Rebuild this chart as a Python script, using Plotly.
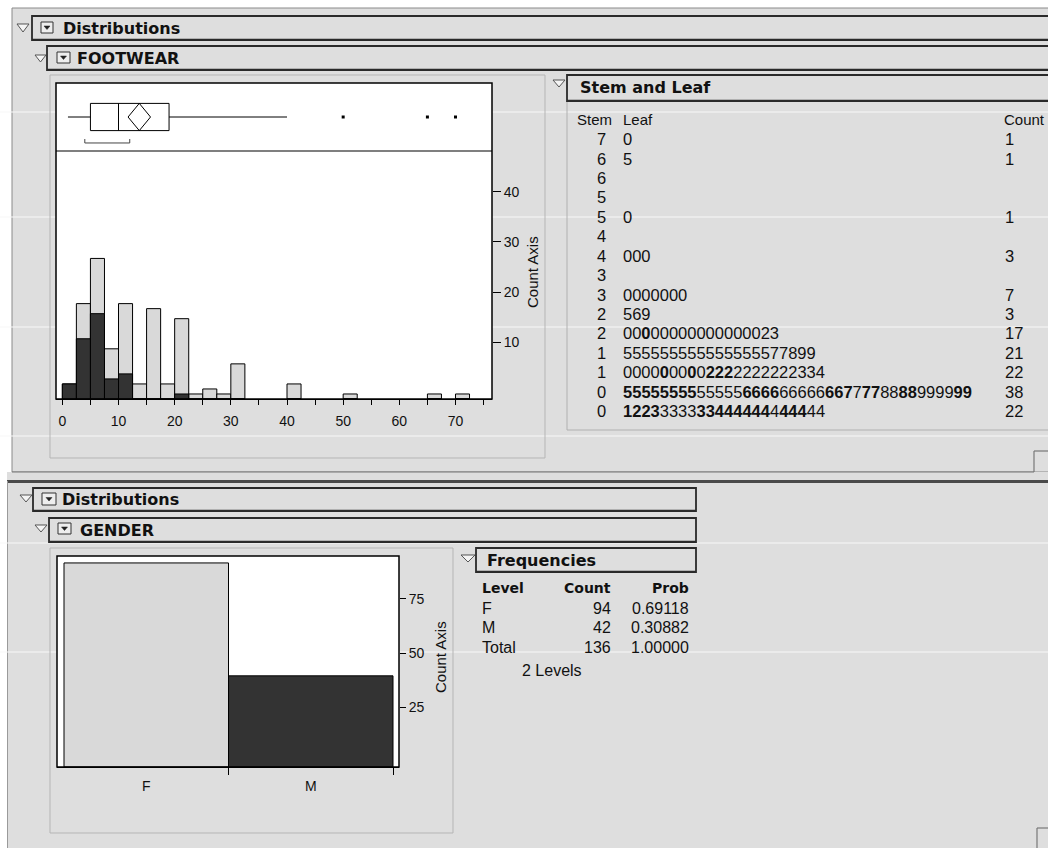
import plotly.graph_objects as go

W, H = 1048, 848

# ---------------- data ----------------
bin_width = 2.5
bin_left = [0, 2.5, 5, 7.5, 10, 12.5, 15, 17.5, 20, 22.5, 25, 27.5, 30, 40, 50, 65, 70]
total_counts = [3, 19, 28, 10, 19, 3, 18, 3, 16, 1, 2, 1, 7, 3, 1, 1, 1]
male_counts = [3, 12, 17, 4, 5, 0, 0, 0, 1, 0, 0, 0, 0, 0, 0, 0, 0]
hist_count_ticks = [10, 20, 30, 40]
hist_x_ticks = [0, 10, 20, 30, 40, 50, 60, 70]

box_q1, box_median, box_q3 = 5, 10, 19
whisker_lo, whisker_hi = 1, 40
outliers = [50, 65, 70]
mean_val, mean_ci_lo, mean_ci_hi = 13.7, 11.7, 15.7
short_half = [4, 12]

stems = ['7', '6', '6', '5', '5', '4', '4', '3', '3', '2', '2', '1', '1', '0', '0']
leaves = ['0', '5', '', '', '0', '', '000', '', '0000000', '569',
          '00000000000000023',
          '555555555555555577899',
          '0000000002222222222334',
          '55555555555556666666666677778888999999',
          '1223333333444444444444']
leaf_bold = ['', '', '', '', '', '', '', '', '', '',
             '..b..............',
             '.....................',
             '....b..b.bbb..........',
             'bbbbbbbb.....bbbb.....bbb.bb..bb....bb',
             'bbbb....bbbbbbbb.bbb..']
leaf_counts = ['1', '1', '', '', '1', '', '3', '', '7', '3', '17', '21', '22', '38', '22']

gender_levels = ['F', 'M']
gender_counts = [94, 42]
gender_probs = ['0.69118', '0.30882']
gender_total, gender_total_prob = 136, '1.00000'
gender_count_ticks = [25, 50, 75]

# ---------------- helpers ----------------
GRAY = '#dedede'
LIGHT = '#d9d9d9'
DARK = '#333333'


def X(p):
    return p / W


def Y(p):
    return 1 - p / H


shapes = []
annotations = []


def rect(x0, y0, x1, y1, fill=None, line=None, lw=1, layer='below'):
    shapes.append(dict(type='rect', xref='paper', yref='paper',
                       x0=X(x0), x1=X(x1), y0=Y(y1), y1=Y(y0),
                       fillcolor=fill if fill else 'rgba(0,0,0,0)',
                       line=dict(color=line if line else 'rgba(0,0,0,0)', width=lw if line else 0),
                       layer=layer))


def hline(x0, x1, y, color, lw=1, layer='below'):
    shapes.append(dict(type='line', xref='paper', yref='paper', x0=X(x0), x1=X(x1),
                       y0=Y(y), y1=Y(y), line=dict(color=color, width=lw), layer=layer))


def vline(x, y0, y1, color, lw=1, layer='below'):
    shapes.append(dict(type='line', xref='paper', yref='paper', x0=X(x), x1=X(x),
                       y0=Y(y0), y1=Y(y1), line=dict(color=color, width=lw), layer=layer))


def path(pts, fill, line, lw=1, layer='above'):
    d = 'M ' + ' L '.join(f'{X(a):.5f},{Y(b):.5f}' for a, b in pts) + ' Z'
    shapes.append(dict(type='path', xref='paper', yref='paper', path=d,
                       fillcolor=fill, line=dict(color=line, width=lw), layer=layer))


def text(x, y, s, size=15, family='Liberation Sans', xanchor='left', color='#111', angle=0):
    annotations.append(dict(x=X(x), y=Y(y), xref='paper', yref='paper', text=s,
                            showarrow=False, xanchor=xanchor, yanchor='middle',
                            textangle=angle,
                            font=dict(size=size, family=family, color=color)))


def disclosure(x0, y0, x1, y1):
    path([(x0, y0), (x1, y0), ((x0 + x1) / 2, y1)], '#f4f4f4', '#555555', 1)


def icon(x0, y0, x1, y1):
    rect(x0, y0, x1, y1, fill='#eeeeee', line='#333333', lw=1, layer='above')
    cx = (x0 + x1) / 2
    cy = (y0 + y1) / 2
    path([(cx - 3, cy - 1.5), (cx + 3, cy - 1.5), (cx, cy + 2)], '#222222', '#222222', 0.5)


def header_bar(x0, y0, x1, y1, label, tx, tri, ico=None):
    rect(x0, y0, x1, y1, fill=GRAY, line='#2a2a2a', lw=1.8, layer='below')
    hline(x0, x1, y1 - 0.5, '#2a2a2a', 1.6)
    disclosure(*tri)
    if ico:
        icon(*ico)
    text(tx, (y0 + y1) / 2, '<b>' + label + '</b>', size=16, family='DejaVu Sans', color='#111')


# ---------------- backgrounds ----------------
rect(12, 8, W + 5, 472, fill=GRAY, line='#8a8a8a', lw=1)
rect(7, 472, W + 5, H + 5, fill=GRAY)
# window border notch (top window)
hline(12, 1034, 472, '#777777', 1.2)
vline(1034, 472, 451, '#777777', 1.2)
hline(1034, W + 5, 451, '#777777', 1.2)
hline(7, W + 5, 481.5, '#4a4a4a', 3)
vline(7.5, 481, H + 5, '#9a9a9a', 1)
vline(1037, H + 5, 828, '#777777', 1.2)
hline(1037, W + 5, 828, '#777777', 1.2)

# scanner lines
for yy in [112, 217, 327, 436, 543, 652]:
    hline(0, W, yy, '#f7f7f7', 1.2)

# panel frames
rect(50, 75, 545, 458, line='#b5b5b5', lw=1)
rect(567, 101, W + 10, 430, line='#b0b0b0', lw=1)
rect(50, 548, 453, 833, line='#b5b5b5', lw=1)

# white plot areas
rect(56, 83, 492, 399, fill='white')
rect(57, 556, 399, 767, fill='white')

# header bars
header_bar(32, 16, W + 10, 40, 'Distributions', 61, (17, 24, 29, 32), (41, 22, 53, 33))
header_bar(47, 46, W + 10, 70, 'FOOTWEAR', 75, (35, 55, 46, 62), (57, 52, 70, 63))
header_bar(567, 75, W + 10, 101, 'Stem and Leaf', 578, (553, 80, 565, 87))
header_bar(33, 488, 696, 511, 'Distributions', 60, (20, 495, 32, 502), (42, 493, 56, 505))
header_bar(49, 518, 696, 542, 'GENDER', 78, (35, 525, 47, 532), (58, 523, 71, 534))
header_bar(476, 548, 696, 572, 'Frequencies', 485, (461, 555, 475, 562))

# plot frames (above traces)
rect(56, 83, 492, 399, line='black', lw=1.5, layer='above')
hline(56, 492, 151, 'black', 1.2, layer='above')
rect(57, 556, 399, 767, line='black', lw=1.5, layer='above')

# ---------------- stem and leaf text ----------------
text(575, 120, 'Stem', size=15)
text(621, 120, 'Leaf', size=15)
text(1002, 120, 'Count', size=15)
for i, (s, lf, bm, c) in enumerate(zip(stems, leaves, leaf_bold, leaf_counts)):
    yy = 139.3 + 19.4 * i
    text(608, yy, s, size=16.5, xanchor='right')
    if lf:
        out = ''
        for j, ch in enumerate(lf):
            out += ('<b>' + ch + '</b>') if (bm and bm[j] == 'b') else ch
        text(621, yy, out, size=16.5)
    if c:
        text(1003, yy, c, size=16.5)

# ---------------- frequencies table ----------------
text(480, 588, '<b>Level</b>', size=14, family='DejaVu Sans')
text(613, 588, '<b>Count</b>', size=14, family='DejaVu Sans', xanchor='right')
text(691, 588, '<b>Prob</b>', size=14, family='DejaVu Sans', xanchor='right')
for i, (lv, ct, pr) in enumerate(zip(gender_levels, gender_counts, gender_probs)):
    yy = 608 + 19.5 * i
    text(480, yy, lv, size=16)
    text(613, yy, str(ct), size=16, xanchor='right')
    text(691, yy, pr, size=16, xanchor='right')
text(480, 647, 'Total', size=16)
text(613, 647, str(gender_total), size=16, xanchor='right')
text(691, 647, gender_total_prob, size=16, xanchor='right')
text(552, 670, f'{len(gender_levels)} Levels', size=16, xanchor='center')

# axis titles
text(533, 272, 'Count Axis', size=15, xanchor='center', angle=-90)
text(440, 657, 'Count Axis', size=15, xanchor='center', angle=-90)

# ---------------- traces ----------------
centers = [b + bin_width / 2 for b in bin_left]
traces = [
    go.Bar(x=centers, y=total_counts, width=bin_width, marker=dict(color=LIGHT, line=dict(color='black', width=1)),
           xaxis='x', yaxis='y', showlegend=False),
    go.Bar(x=centers, y=male_counts, width=bin_width, marker=dict(color=DARK, line=dict(color='black', width=1)),
           xaxis='x', yaxis='y', showlegend=False),
    go.Scatter(x=[None], y=[None], xaxis='x', yaxis='y3', showlegend=False),
    go.Box(q1=[box_q1], median=[box_median], q3=[box_q3], lowerfence=[whisker_lo], upperfence=[whisker_hi],
           y=[0.5], orientation='h', width=0.4, whiskerwidth=0, fillcolor='white',
           line=dict(color='black', width=1), boxpoints=False, xaxis='x2', yaxis='y2', showlegend=False),
    go.Scatter(x=[mean_ci_lo, mean_val, mean_ci_hi, mean_val, mean_ci_lo], y=[0.5, 0.7, 0.5, 0.3, 0.5],
               mode='lines', line=dict(color='black', width=1), xaxis='x2', yaxis='y2', showlegend=False),
    go.Scatter(x=outliers, y=[0.5] * len(outliers), mode='markers',
               marker=dict(symbol='square', size=3, color='black'), xaxis='x2', yaxis='y2', showlegend=False),
    go.Scatter(x=[short_half[0], short_half[0], short_half[1], short_half[1]], y=[0.176, 0.118, 0.118, 0.176],
               mode='lines', line=dict(color='#444', width=1), xaxis='x2', yaxis='y2', showlegend=False),
    go.Bar(x=[0.5, 1.5], y=gender_counts, width=1, marker=dict(color=[LIGHT, DARK], line=dict(color='black', width=1)),
           xaxis='x3', yaxis='y4', showlegend=False),
    go.Scatter(x=[None], y=[None], xaxis='x3', yaxis='y5', showlegend=False),
]

fig = go.Figure(traces)

tickfont = dict(family='Liberation Sans', size=14, color='#111')
hidden = dict(visible=False, showgrid=False, zeroline=False)
hist_range = [-1.13, 76.5]

fig.update_layout(
    width=W, height=H, margin=dict(l=0, r=0, t=0, b=0),
    paper_bgcolor='white', plot_bgcolor='white',
    barmode='overlay', bargap=0, showlegend=False, hovermode=False,
    xaxis=dict(domain=[X(56), X(492)], range=hist_range, anchor='y',
               tickmode='array', tickvals=hist_x_ticks, ticks='outside', ticklen=5, tickcolor='black',
               minor=dict(dtick=5, tick0=0, ticks='outside', ticklen=5, tickcolor='black', showgrid=False),
               showline=True, linecolor='black', linewidth=1, showgrid=False, zeroline=False,
               tickfont=tickfont, ticklabelstandoff=4),
    yaxis=dict(domain=[Y(399), Y(151)], range=[0, 49.4], anchor='x', **hidden),
    yaxis3=dict(overlaying='y', side='right', anchor='x', range=[-1.3, 48.1],
                tickmode='array', tickvals=hist_count_ticks, ticks='outside', ticklen=8, tickcolor='black',
                showline=False, showgrid=False, zeroline=False, tickfont=tickfont),
    xaxis2=dict(domain=[X(56), X(492)], range=hist_range, anchor='y2', **hidden),
    yaxis2=dict(domain=[Y(151), Y(83)], range=[0, 1], anchor='x2', **hidden),
    xaxis3=dict(domain=[X(57), X(399)], range=[-0.0426, 2.0365], anchor='y4',
                tickmode='array', tickvals=[0.5, 1.5], ticktext=gender_levels, ticks='',
                minor=dict(tickmode='array', tickvals=[1, 2], ticks='outside', ticklen=7, tickcolor='black',
                           showgrid=False),
                showline=True, linecolor='black', linewidth=1, showgrid=False, zeroline=False,
                tickfont=tickfont, ticklabelstandoff=6),
    yaxis4=dict(domain=[Y(767), Y(556)], range=[0, 97.2], anchor='x3', **hidden),
    yaxis5=dict(overlaying='y4', side='right', anchor='x3', range=[-2.4, 94.8],
                tickmode='array', tickvals=gender_count_ticks, ticks='outside', ticklen=6, tickcolor='black',
                showline=False, showgrid=False, zeroline=False, tickfont=tickfont),
    shapes=shapes, annotations=annotations,
)

fig.write_html('out.html', config={'displayModeBar': False, 'staticPlot': True},
               post_script="document.body.style.margin='0px';document.body.style.overflow='hidden';")
